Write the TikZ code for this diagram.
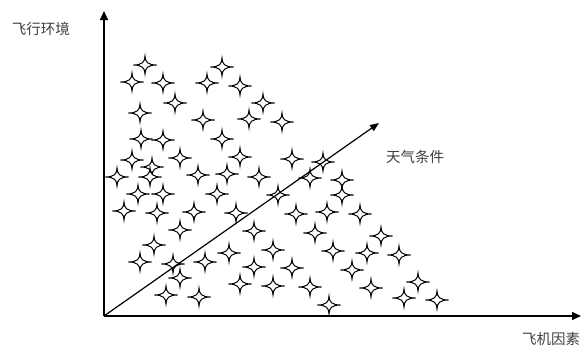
\documentclass[tikz,border=0pt]{standalone}
\usepackage{fontspec}
\newfontfamily\cjk{Noto Sans CJK SC}
\usepackage{tikz}
\usetikzlibrary{arrows.meta,positioning}

\begin{document}
\begin{tikzpicture}[
  x=1pt, y=-1pt,
  axis/.style={line width=1.5pt, -{Triangle[length=9pt,width=8pt]}},
  diag/.style={line width=1.2pt, -{Triangle[length=9pt,width=7pt]}},
  lbl/.style={font=\cjk\fontsize{14.5}{16}\selectfont, text=black!75, inner sep=0pt},
  spark/.pic={
    \draw[line width=1pt, fill=white]
      (-11.5,0) .. controls (-3,0) and (0,-3) .. (0,-9)
      .. controls (0,-3) and (3,0) .. (11.5,0)
      .. controls (3,0) and (0,3) .. (0,9)
      .. controls (0,3) and (-3,0) .. cycle;
  }
]
\useasboundingbox (0,0) rectangle (584,348);

% stars
\foreach \px/\py in {145/65, 222/67, 132/82, 163/83, 207/83, 240/86, 175/103, 263/103,
  140/113, 203/120, 249/119, 282/122, 141/139, 163/140, 222/139, 132/160, 180/158,
  240/157, 152/167, 292/159, 323/162, 117/177, 150/177, 198/175, 227/174, 259/177,
  310/178, 342/180, 138/194, 163/194, 217/194, 278/195, 342/195, 124/211, 157/213,
  194/212, 236/213, 296/214, 327/212, 360/214, 180/230, 254/231, 315/233, 381/236,
  154/245, 229/253, 273/250, 333/251, 367/253, 399/255, 140/262, 173/264, 205/262,
  254/267, 292/268, 352/270, 180/278, 240/284, 273/286, 310/287, 371/288, 418/282,
  166/295, 199/297, 329/305, 404/298, 437/300}
  \pic at (\px,\py) {spark};

% axes
\coordinate (origin) at (104,316);
\coordinate (ytip) at (104,11);
\coordinate (xtip) at (581,316);
\coordinate (wtip) at (379,123);
\draw[axis] (origin) -- (ytip);
\draw[axis] (origin) -- (xtip);
\draw[diag] (origin) -- (wtip);

\node[lbl] (env) at (41,29) {飞行环境};
\node[lbl] (weather) at (415,157) {天气条件};
\node[lbl] (plane) at (551,339) {飞机因素};
\end{tikzpicture}
\end{document}
